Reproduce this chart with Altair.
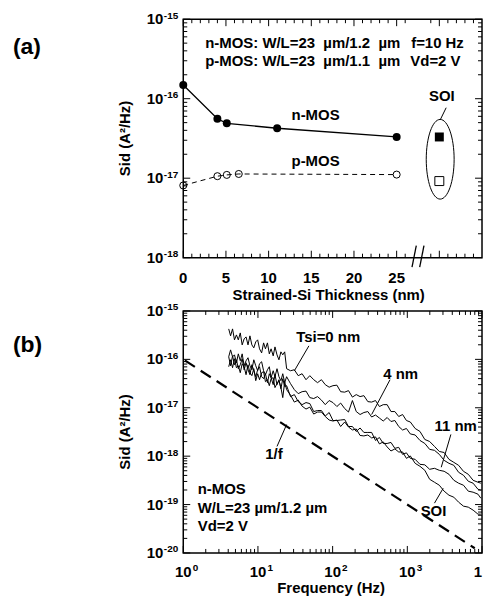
import altair as alt
import pandas as pd

FONT = "Liberation Sans"
BLACK = "black"
NBSP = "\u00a0"
ZWSP = "\u200b"

# ---------------- panel (a): Sid vs strained-Si thickness ----------------
THICK_N = [0, 4, 5.1, 11, 25]
SID_N = [1.49e-16, 5.6e-17, 4.9e-17, 4.25e-17, 3.3e-17]
THICK_P = [0, 4, 5.1, 6.5, 25]
SID_P = [8.1e-18, 1.06e-17, 1.1e-17, 1.13e-17, 1.11e-17]
SOI_X = [30, 30]
SOI_SID = [3.3e-17, 9.2e-18]
SOI_FILLED = [True, False]

A_TEXT_LEFT = ["n-MOS: W/L=23" + NBSP + " µm/1.2" + NBSP + " µm",
               "p-MOS: W/L=23" + NBSP + " µm/1.1" + NBSP + " µm", "f=10 Hz", "Vd=2 V"]
A_TEXT_LEFT_X = [2.57, 2.57, 26.7, 26.6]
A_TEXT_LEFT_Y = [4.95e-16, 2.97e-16, 4.95e-16, 2.97e-16]
A_TEXT_CENTER = ["n-MOS", "p-MOS", "SOI"]
A_TEXT_CENTER_X = [15.5, 15.5, 30.3]
A_TEXT_CENTER_Y = [6.2e-17, 1.64e-17, 1.07e-16]

A_LEAD = {"x": [30.1], "y": [5.4e-17], "x2": [30.8], "y2": [7.7e-17]}
A_BREAK = {"x": [26.8, 27.7], "y": [7.6e-19, 7.6e-19], "x2": [27.3, 28.2], "y2": [1.42e-18, 1.42e-18]}
A_ELLIPSE = {"x": [30.1], "y": [1.73e-17]}

A_X_LABELS = ["0", "5", "10", "15", "20", "25"]
A_X_LABEL_POS = [0, 5, 10, 15, 20, 25]
A_X_MAJOR = [0, 5, 10, 15, 20, 25, 30]
A_X_MINOR = [1, 2, 3, 4, 6, 7, 8, 9, 11, 12, 13, 14, 16, 17, 18, 19, 21, 22, 23, 24, 26, 29, 31, 32, 33, 34]
A_Y_DECADES = [1e-18, 1e-17, 1e-16, 1e-15]
A_Y_EXP = ["-18", "-17", "-16", "-15"]

# ---------------- panel (b): spectra ----------------
FREQ_B = [4.06, 4.30, 4.57, 4.85, 5.15, 5.46, 5.80, 6.15, 6.53, 6.93,
          7.36, 7.81, 8.29, 8.80, 9.34, 9.91, 10.5, 11.2, 11.9, 12.6,
          13.4, 14.2, 15.0, 16.0, 16.9, 18.0, 19.1, 20.3, 21.5, 22.8, 24.2,
          27.3, 30.7, 34.6, 39.0, 44.0, 49.5, 55.8, 62.8, 70.8, 79.7,
          89.8, 101, 114, 128, 145, 163, 184, 207, 233, 262,
          296, 333, 375, 423, 476, 537, 604, 681, 767, 864, 973, 1097,
          1273, 1477, 1715, 1990, 2310, 2681, 3111, 3611, 4192, 4863,
          5644, 6552, 7603, 8825, 9650]

SID_TSI0 = [4.26e-16, 3.06e-16, 4.26e-16, 2.53e-16, 3.20e-16, 2.53e-16, 3.52e-16, 1.99e-16, 2.65e-16, 2.91e-16,
            1.99e-16, 3.06e-16, 1.99e-16, 1.73e-16, 2.30e-16, 2.53e-16, 1.65e-16, 1.36e-16, 2.19e-16, 1.65e-16,
            2.19e-16, 1.30e-16, 1.65e-16, 1.18e-16, 1.81e-16, 1.24e-16, 9.8e-17, 1.43e-16, 1.24e-16, 1.43e-16,
            6.41e-17,
            5.82e-17, 6.10e-17, 4.60e-17, 5.05e-17, 3.80e-17, 4.60e-17, 3.80e-17, 3.30e-17, 3.80e-17, 3.00e-17,
            2.66e-17, 2.86e-17, 2.93e-17, 2.15e-17, 2.10e-17, 2.26e-17, 1.66e-17, 1.87e-17, 1.70e-17, 1.78e-17,
            1.34e-17, 1.31e-17, 1.41e-17, 1.06e-17, 1.16e-17, 1.16e-17, 8.35e-18, 8.35e-18, 6.59e-18, 7.25e-18,
            5.45e-18, 5.08e-18,
            3.73e-18, 3.24e-18, 2.21e-18, 2.01e-18, 1.59e-18, 1.25e-18, 1.19e-18, 8.59e-19, 7.45e-19, 6.46e-19,
            4.86e-19, 4.22e-19, 3.17e-19, 2.89e-19, 2.76e-19]

SID_4NM = [1.13e-16, 1.57e-16, 1.13e-16, 1.24e-16, 8.51e-17, 1.30e-16, 9.36e-17, 1.30e-16, 7.38e-17, 9.36e-17,
           1.08e-16, 7.38e-17, 6.10e-17, 9.81e-17, 7.38e-17, 5.82e-17, 8.12e-17, 8.93e-17, 5.82e-17, 4.82e-17,
           6.10e-17, 7.04e-17, 4.18e-17, 5.82e-17, 4.38e-17, 6.41e-17, 4.38e-17, 3.62e-17, 5.05e-17, 3.30e-17,
           4.38e-17,
           3.15e-17, 2.37e-17, 1.96e-17, 2.15e-17, 2.21e-17, 1.62e-17, 1.55e-17, 1.70e-17, 1.44e-17, 1.16e-17,
           1.41e-17, 1.28e-17, 1.06e-17, 1.25e-17, 9.63e-18, 8.16e-18, 1.41e-17, 8.35e-18, 7.25e-18, 7.97e-18,
           8.35e-18, 6.44e-18, 7.08e-18, 6.13e-18, 5.32e-18, 6.29e-18, 5.20e-18, 5.45e-18, 4.10e-18, 3.47e-18,
           3.73e-18, 2.88e-18,
           2.74e-18, 2.11e-18, 1.83e-18, 1.38e-18, 1.32e-18, 1.09e-18, 8.19e-19, 7.11e-19, 6.47e-19, 4.64e-19,
           4.03e-19, 3.03e-19, 2.76e-19, 2.07e-19, 1.98e-19]

SID_11NM = [1.13e-16, 7.38e-17, 1.18e-16, 7.75e-17, 9.81e-17, 6.41e-17, 7.75e-17, 1.03e-16, 6.10e-17, 8.51e-17,
            6.10e-17, 4.82e-17, 7.75e-17, 5.82e-17, 4.38e-17, 6.10e-17, 7.04e-17, 4.38e-17, 3.99e-17, 5.05e-17,
            3.30e-17, 5.05e-17, 4.18e-17, 3.00e-17, 4.82e-17, 3.00e-17, 3.80e-17, 2.48e-17, 3.99e-17, 2.73e-17,
            2.86e-17,
            1.70e-17, 1.87e-17, 1.34e-17, 1.16e-17, 1.28e-17, 1.22e-17, 8.35e-18, 8.76e-18, 8.76e-18, 6.75e-18,
            7.97e-18, 5.45e-18, 5.45e-18, 5.58e-18, 5.71e-18, 4.10e-18, 4.10e-18, 3.24e-18, 3.82e-18, 3.09e-18,
            3.09e-18, 3.09e-18, 2.11e-18, 2.43e-18, 1.83e-18, 1.83e-18, 1.92e-18, 1.45e-18, 1.52e-18, 1.09e-18,
            1.17e-18, 9.01e-19,
            8.60e-19, 6.78e-19, 6.62e-19, 5.35e-19, 5.61e-19, 5.10e-19, 4.87e-19, 4.22e-19, 3.18e-19, 2.76e-19,
            2.51e-19, 1.89e-19, 1.80e-19, 1.64e-19, 1.35e-19]

SID_SOI = [7.04e-17, 9.81e-17, 6.72e-17, 1.03e-16, 6.72e-17, 7.38e-17, 5.30e-17, 8.12e-17, 7.04e-17, 4.82e-17,
           7.75e-17, 5.30e-17, 4.60e-17, 6.41e-17, 3.63e-17, 5.05e-17, 3.80e-17, 5.30e-17, 5.56e-17, 3.46e-17,
           3.80e-17, 2.86e-17, 3.99e-17, 4.18e-17, 2.61e-17, 3.15e-17, 3.63e-17, 2.61e-17, 1.62e-17, 3.46e-17,
           2.37e-17,
           1.82e-17, 1.31e-17, 1.44e-17, 1.08e-17, 9.40e-18, 1.03e-17, 7.42e-18, 8.16e-18, 8.16e-18, 6.59e-18,
           5.58e-18, 5.32e-18, 5.58e-18, 4.10e-18, 5.08e-18, 4.01e-18, 3.48e-18, 3.64e-18, 2.68e-18, 2.62e-18,
           2.74e-18, 2.38e-18, 2.50e-18, 1.79e-18, 1.97e-18, 1.55e-18, 1.28e-18, 1.41e-18, 1.22e-18, 1.22e-18,
           9.01e-19, 1.01e-18,
           7.11e-19, 6.17e-19, 5.10e-19, 3.33e-19, 2.89e-19, 2.51e-19, 1.89e-19, 1.56e-19, 1.42e-19, 1.12e-19,
           9.27e-20, 8.84e-20, 7.67e-20, 6.34e-20, 6.34e-20]

ONE_OVER_F_FREQ = [1.05, 8000]
ONE_OVER_F_SID = [9.5e-17, 1.25e-20]

B_TEXT_CENTER = ["Tsi=0 nm", "4 nm", "11 nm", "SOI", "1/f"]
B_TEXT_CENTER_F = [87.2, 814, 4446, 2243, 16.4]
B_TEXT_CENTER_S = [2.92e-16, 5.06e-17, 4.1e-18, 7.3e-20, 1.09e-18]
B_TEXT_LEFT = ["n-MOS", "W/L=23 µm/1.2 µm", "Vd=2 V"]
B_TEXT_LEFT_F = [1.56, 1.56, 1.56]
B_TEXT_LEFT_S = [2.07e-19, 8.4e-20, 3.6e-20]

B_LEAD = {"x": [48.1, 587, 3830, 2310, 18.0],
          "y": [1.9e-16, 3.8e-17, 2.81e-18, 1.07e-19, 1.59e-18],
          "x2": [30.7, 333, 2846, 3020, 24.2],
          "y2": [5.8e-17, 7.25e-18, 5.9e-19, 2.17e-19, 4.5e-18]}

B_X_DECADES = [1, 10, 100, 1000, 10000]
B_X_EXP = ["0", "1", "2", "3", "4"]
B_Y_DECADES = [1e-20, 1e-19, 1e-18, 1e-17, 1e-16, 1e-15]
B_Y_EXP = ["-20", "-19", "-18", "-17", "-16", "-15"]
MINOR_MULT = [2, 3, 4, 5, 6, 7, 8, 9]

TITLE_A_X = "Strained-Si Thickness (nm)"
TITLE_B_X = "Frequency (Hz)"
TITLE_Y = "Sid (A²/Hz)"

# ---------------- sizes / scales ----------------
W = 300
HA = 239.5
HB = 243
MAJOR_LEN = 7
MINOR_LEN = 4

xs_a = alt.Scale(domain=[0, 35], nice=False, zero=False)
ys_a = alt.Scale(type="log", domain=[1e-18, 1e-15], nice=False)
xs_b = alt.Scale(type="log", domain=[1, 1e4], nice=False)
ys_b = alt.Scale(type="log", domain=[1e-20, 1e-15], nice=False)


def log_minor(decades):
    return [m * d for d in decades[:-1] for m in MINOR_MULT]


def x_ticks(values, scale, length, H):
    base = alt.Chart(pd.DataFrame({"v": values})).mark_rule(color=BLACK, strokeWidth=1)
    xe = alt.X("v:Q", scale=scale, axis=None)
    return [base.encode(x=xe, y=alt.value(H), y2=alt.value(H - length)),
            base.encode(x=xe, y=alt.value(0), y2=alt.value(length))]


def y_ticks(values, scale, length, Wd):
    base = alt.Chart(pd.DataFrame({"v": values})).mark_rule(color=BLACK, strokeWidth=1)
    ye = alt.Y("v:Q", scale=scale, axis=None)
    return [base.encode(y=ye, x=alt.value(0), x2=alt.value(length)),
            base.encode(y=ye, x=alt.value(Wd), x2=alt.value(Wd - length))]


def txt(size=15, align="center", **kw):
    return dict(font=FONT, fontWeight="bold", fontSize=size, align=align, baseline="middle",
                color=BLACK, **kw)


def y_labels(decades, exps, scale):
    df = pd.DataFrame({"v": decades, "base": ["10"] * len(decades), "exp": exps})
    ye = alt.Y("v:Q", scale=scale, axis=None)
    return [alt.Chart(df).mark_text(**txt(15, "right")).encode(x=alt.value(-20), y=ye, text="base:N"),
            alt.Chart(df).mark_text(**txt(10, "left", dy=-3.5)).encode(x=alt.value(-19.5), y=ye,
                                                                       text="exp:N")]


def x_log_labels(decades, exps, scale, H):
    df = pd.DataFrame({"v": decades, "base": ["10"] * len(decades), "exp": exps})
    xe = alt.X("v:Q", scale=scale, axis=None)
    inner, last = df.iloc[:-1], df.iloc[-1:]
    return [alt.Chart(inner).mark_text(**txt(15, "center")).encode(x=xe, y=alt.value(H + 19), text="base:N"),
            alt.Chart(inner).mark_text(**txt(10, "left", dx=9.5, dy=-3.5)).encode(
                x=xe, y=alt.value(H + 19), text="exp:N"),
            # the last label is cut by the right edge of the figure, as in the original
            alt.Chart(last).mark_text(**txt(15, "left", dx=-8.35, limit=8.8, ellipsis=ZWSP)).encode(
                x=xe, y=alt.value(H + 19), text="base:N")]


def fixed_text(label, x, y, size=15, align="center", angle=0):
    kw = {"angle": angle} if angle else {}
    return alt.Chart(pd.DataFrame({"label": [label]})).mark_text(**txt(size, align, **kw)).encode(
        x=alt.value(x), y=alt.value(y), text="label:N")


def texts(labels, xv, yv, xs, ys, align):
    df = pd.DataFrame({"x": xv, "y": yv, "label": labels})
    return alt.Chart(df).mark_text(**txt(15, align)).encode(
        x=alt.X("x:Q", scale=xs, axis=None), y=alt.Y("y:Q", scale=ys, axis=None), text="label:N")


def rules(d, xs, ys, width=1.0):
    return alt.Chart(pd.DataFrame(d)).mark_rule(color=BLACK, strokeWidth=width).encode(
        x=alt.X("x:Q", scale=xs, axis=None), x2="x2:Q",
        y=alt.Y("y:Q", scale=ys, axis=None), y2="y2:Q")


def enc(chart, xf, yf, xs, ys):
    return chart.encode(x=alt.X(xf, scale=xs, axis=None), y=alt.Y(yf, scale=ys, axis=None))


# ---------------- panel (a) ----------------
n_df = pd.DataFrame({"thick": THICK_N, "sid": SID_N})
p_df = pd.DataFrame({"thick": THICK_P, "sid": SID_P})
soi_df = pd.DataFrame({"thick": SOI_X, "sid": SOI_SID, "filled": SOI_FILLED})

n_line = enc(alt.Chart(n_df).mark_line(color=BLACK, strokeWidth=1.3), "thick:Q", "sid:Q", xs_a, ys_a)
n_pts = enc(alt.Chart(n_df).mark_point(shape="circle", filled=True, size=64, color=BLACK, opacity=1),
            "thick:Q", "sid:Q", xs_a, ys_a)
p_line = enc(alt.Chart(p_df).mark_line(color=BLACK, strokeWidth=1, strokeDash=[5, 4]),
             "thick:Q", "sid:Q", xs_a, ys_a)
p_pts = enc(alt.Chart(p_df).mark_point(shape="circle", filled=False, size=50, color=BLACK, opacity=1,
                                       strokeWidth=1), "thick:Q", "sid:Q", xs_a, ys_a)
soi_fill = enc(alt.Chart(soi_df[soi_df["filled"]]).mark_point(shape="square", filled=True, size=81,
                                                             color=BLACK, opacity=1),
               "thick:Q", "sid:Q", xs_a, ys_a)
soi_open = enc(alt.Chart(soi_df[~soi_df["filled"]]).mark_point(shape="square", filled=False, size=81,
                                                              color=BLACK, opacity=1, strokeWidth=1),
               "thick:Q", "sid:Q", xs_a, ys_a)
ELLIPSE_PATH = ("M0,-1 C0.1933,-1 0.35,-0.5523 0.35,0 C0.35,0.5523 0.1933,1 0,1 "
                "C-0.1933,1 -0.35,0.5523 -0.35,0 C-0.35,-0.5523 -0.1933,-1 0,-1 Z")
ellipse = enc(alt.Chart(pd.DataFrame(A_ELLIPSE)).mark_point(shape=ELLIPSE_PATH, size=6400, filled=False,
                                                           color=BLACK, opacity=1, strokeWidth=1),
              "x:Q", "y:Q", xs_a, ys_a)
xlab_a = alt.Chart(pd.DataFrame({"v": A_X_LABEL_POS, "label": A_X_LABELS})).mark_text(**txt(15)).encode(
    x=alt.X("v:Q", scale=xs_a, axis=None), y=alt.value(HA + 20.4), text="label:N")

layers_a = [n_line, p_line, n_pts, p_pts, soi_fill, soi_open, ellipse,
            rules(A_LEAD, xs_a, ys_a), rules(A_BREAK, xs_a, ys_a, 1.3),
            texts(A_TEXT_LEFT, A_TEXT_LEFT_X, A_TEXT_LEFT_Y, xs_a, ys_a, "left"),
            texts(A_TEXT_CENTER, A_TEXT_CENTER_X, A_TEXT_CENTER_Y, xs_a, ys_a, "center"),
            xlab_a,
            fixed_text(TITLE_A_X, W / 2 - 4, HA + 37.5),
            fixed_text(TITLE_Y, -58, HA / 2, angle=270),
            fixed_text("(a)", -171, 28, size=23, align="left")]
layers_a += y_labels(A_Y_DECADES, A_Y_EXP, ys_a)
layers_a += x_ticks(A_X_MAJOR, xs_a, MAJOR_LEN, HA) + x_ticks(A_X_MINOR, xs_a, MINOR_LEN, HA)
layers_a += y_ticks(A_Y_DECADES, ys_a, MAJOR_LEN, W) + y_ticks(log_minor(A_Y_DECADES), ys_a, MINOR_LEN, W)
panel_a = alt.layer(*layers_a).properties(width=W, height=HA)

# ---------------- panel (b) ----------------
curves = pd.concat([
    pd.DataFrame({"freq": FREQ_B, "sid": s, "curve": name})
    for name, s in [("Tsi=0 nm", SID_TSI0), ("4 nm", SID_4NM), ("11 nm", SID_11NM), ("SOI", SID_SOI)]
])
spectra = alt.Chart(curves).mark_line(color=BLACK, strokeWidth=1.0).encode(
    x=alt.X("freq:Q", scale=xs_b, axis=None), y=alt.Y("sid:Q", scale=ys_b, axis=None),
    detail="curve:N")
one_f = enc(alt.Chart(pd.DataFrame({"freq": ONE_OVER_F_FREQ, "sid": ONE_OVER_F_SID})).mark_line(
    color=BLACK, strokeWidth=2.2, strokeDash=[12, 7]), "freq:Q", "sid:Q", xs_b, ys_b)

layers_b = [spectra, one_f, rules(B_LEAD, xs_b, ys_b),
            texts(B_TEXT_CENTER, B_TEXT_CENTER_F, B_TEXT_CENTER_S, xs_b, ys_b, "center"),
            texts(B_TEXT_LEFT, B_TEXT_LEFT_F, B_TEXT_LEFT_S, xs_b, ys_b, "left"),
            fixed_text(TITLE_B_X, W / 2 - 1.5, HB + 35.5),
            fixed_text(TITLE_Y, -58, HB / 2, angle=270),
            fixed_text("(b)", -171, 34, size=23, align="left")]
layers_b += y_labels(B_Y_DECADES, B_Y_EXP, ys_b) + x_log_labels(B_X_DECADES, B_X_EXP, xs_b, HB)
layers_b += x_ticks(B_X_DECADES, xs_b, MAJOR_LEN, HB) + x_ticks(log_minor(B_X_DECADES), xs_b, MINOR_LEN, HB)
layers_b += y_ticks(B_Y_DECADES, ys_b, MAJOR_LEN, W) + y_ticks(log_minor(B_Y_DECADES), ys_b, MINOR_LEN, W)
panel_b = alt.layer(*layers_b).properties(width=W, height=HB)

chart = alt.vconcat(panel_a, panel_b, spacing=53, bounds="flush").properties(
    padding={"left": 4, "top": 0, "right": 0, "bottom": 0},
).configure_view(stroke=BLACK, strokeWidth=1.5)

chart.save("out.html", embed_options={"renderer": "svg", "actions": False})
